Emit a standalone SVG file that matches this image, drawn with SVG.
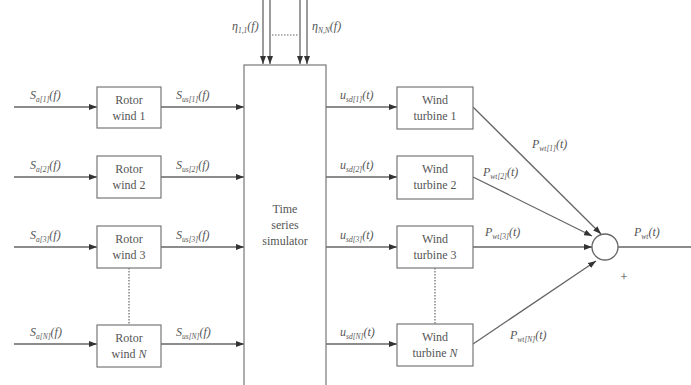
<svg xmlns="http://www.w3.org/2000/svg" width="691" height="385" viewBox="0 0 691 385" font-family="'Liberation Serif', 'DejaVu Serif', 'Times New Roman', serif">
<style>
.box{fill:#fff;stroke:#777;stroke-width:1.2}
.ln{stroke:#666;stroke-width:1.3;fill:none}
.dot{stroke:#666;stroke-width:1.2;stroke-dasharray:1.5 1.5;fill:none}
text{font-family:'Liberation Serif','DejaVu Serif','Times New Roman',serif}
.t{font-size:12px;fill:#555;text-anchor:middle}
.l{font-size:12px;fill:#555;font-style:italic}
.s{font-size:7.5px}
</style>
<defs>
<marker id="a" viewBox="0 0 8 6" refX="8" refY="3" markerWidth="8" markerHeight="6" markerUnits="userSpaceOnUse" orient="auto">
<path d="M0,0 L8,3 L0,6 z" fill="#333"/>
</marker>
</defs>
<rect width="691" height="385" fill="#fff"/>
<g id="connectors">
<line class="ln" x1="263" y1="0" x2="263" y2="64" marker-end="url(#a)"/>
<line class="ln" x1="270" y1="0" x2="270" y2="64" marker-end="url(#a)"/>
<line class="ln" x1="300" y1="0" x2="300" y2="64" marker-end="url(#a)"/>
<line class="ln" x1="307" y1="0" x2="307" y2="64" marker-end="url(#a)"/>
<line class="dot" x1="272" y1="35" x2="298" y2="35"/>
<line class="ln" x1="14" y1="107" x2="97" y2="107" marker-end="url(#a)"/>
<line class="ln" x1="14" y1="177" x2="97" y2="177" marker-end="url(#a)"/>
<line class="ln" x1="14" y1="247" x2="97" y2="247" marker-end="url(#a)"/>
<line class="ln" x1="14" y1="344" x2="97" y2="344" marker-end="url(#a)"/>
<line class="ln" x1="161" y1="107" x2="244" y2="107" marker-end="url(#a)"/>
<line class="ln" x1="161" y1="177" x2="244" y2="177" marker-end="url(#a)"/>
<line class="ln" x1="161" y1="247" x2="244" y2="247" marker-end="url(#a)"/>
<line class="ln" x1="161" y1="344" x2="244" y2="344" marker-end="url(#a)"/>
<line class="dot" x1="129" y1="268" x2="129" y2="325"/>
<line class="ln" x1="326" y1="107" x2="397" y2="107" marker-end="url(#a)"/>
<line class="ln" x1="326" y1="177" x2="397" y2="177" marker-end="url(#a)"/>
<line class="ln" x1="326" y1="247" x2="397" y2="247" marker-end="url(#a)"/>
<line class="ln" x1="326" y1="344" x2="397" y2="344" marker-end="url(#a)"/>
<line class="dot" x1="435" y1="268" x2="435" y2="324"/>
<line class="ln" x1="473" y1="107" x2="601" y2="234" marker-end="url(#a)"/>
<line class="ln" x1="473" y1="177" x2="592" y2="236" marker-end="url(#a)"/>
<line class="ln" x1="473" y1="247" x2="592" y2="247" marker-end="url(#a)"/>
<line class="ln" x1="473" y1="344" x2="596" y2="261" marker-end="url(#a)"/>
<line class="ln" x1="618" y1="247" x2="691" y2="247"/>
</g>
<g id="sim"><rect class="box" x="244" y="65" width="82" height="330"/>
<text class="t" x="285" y="213">Time</text><text class="t" x="285" y="229">series</text><text class="t" x="285" y="245">simulator</text></g>
<g id="rw1"><rect class="box" x="97" y="87" width="64" height="41"/><text class="t" x="129" y="104">Rotor</text><text class="t" x="129" y="120">wind 1</text></g>
<g id="rw2"><rect class="box" x="97" y="156" width="64" height="42"/><text class="t" x="129" y="173">Rotor</text><text class="t" x="129" y="189">wind 2</text></g>
<g id="rw3"><rect class="box" x="97" y="226" width="64" height="42"/><text class="t" x="129" y="243">Rotor</text><text class="t" x="129" y="259">wind 3</text></g>
<g id="rwN"><rect class="box" x="97" y="325" width="64" height="42"/><text class="t" x="129" y="342">Rotor</text><text class="t" x="129" y="358">wind <tspan font-style="italic">N</tspan></text></g>
<g id="wt1"><rect class="box" x="397" y="87" width="76" height="42"/><text class="t" x="435" y="104">Wind</text><text class="t" x="435" y="120">turbine 1</text></g>
<g id="wt2"><rect class="box" x="397" y="156" width="76" height="43"/><text class="t" x="435" y="173">Wind</text><text class="t" x="435" y="189">turbine 2</text></g>
<g id="wt3"><rect class="box" x="397" y="226" width="76" height="42"/><text class="t" x="435" y="243">Wind</text><text class="t" x="435" y="259">turbine 3</text></g>
<g id="wtN"><rect class="box" x="397" y="324" width="76" height="42"/><text class="t" x="435" y="341">Wind</text><text class="t" x="435" y="357">turbine <tspan font-style="italic">N</tspan></text></g>
<g id="sum"><circle cx="605" cy="247" r="13" fill="#fff" stroke="#666" stroke-width="1.3"/><text class="t" x="624" y="281" style="font-size:13px;fill:#444">+</text></g>
<g id="labels">
<text class="l" x="232" y="30">η<tspan class="s" dy="3">1,1</tspan><tspan dy="-3">(f)</tspan></text>
<text class="l" x="312" y="30">η<tspan class="s" dy="3">N,N</tspan><tspan dy="-3">(f)</tspan></text>
<text class="l" x="30" y="99">S<tspan class="s" dy="3">a[1]</tspan><tspan dy="-3">(f)</tspan></text>
<text class="l" x="30" y="169">S<tspan class="s" dy="3">a[2]</tspan><tspan dy="-3">(f)</tspan></text>
<text class="l" x="30" y="239">S<tspan class="s" dy="3">a[3]</tspan><tspan dy="-3">(f)</tspan></text>
<text class="l" x="30" y="336">S<tspan class="s" dy="3">a[N]</tspan><tspan dy="-3">(f)</tspan></text>
<text class="l" x="176" y="99">S<tspan class="s" dy="3">us[1]</tspan><tspan dy="-3">(f)</tspan></text>
<text class="l" x="176" y="169">S<tspan class="s" dy="3">us[2]</tspan><tspan dy="-3">(f)</tspan></text>
<text class="l" x="176" y="239">S<tspan class="s" dy="3">us[3]</tspan><tspan dy="-3">(f)</tspan></text>
<text class="l" x="176" y="336">S<tspan class="s" dy="3">us[N]</tspan><tspan dy="-3">(f)</tspan></text>
<text class="l" x="340" y="99">u<tspan class="s" dy="3">sd[1]</tspan><tspan dy="-3">(t)</tspan></text>
<text class="l" x="340" y="169">u<tspan class="s" dy="3">sd[2]</tspan><tspan dy="-3">(t)</tspan></text>
<text class="l" x="340" y="239">u<tspan class="s" dy="3">sd[3]</tspan><tspan dy="-3">(t)</tspan></text>
<text class="l" x="340" y="336">u<tspan class="s" dy="3">sd[N]</tspan><tspan dy="-3">(t)</tspan></text>
<text class="l" x="532" y="148">P<tspan class="s" dy="3">wt[1]</tspan><tspan dy="-3">(t)</tspan></text>
<text class="l" x="483" y="176">P<tspan class="s" dy="3">wt[2]</tspan><tspan dy="-3">(t)</tspan></text>
<text class="l" x="485" y="236">P<tspan class="s" dy="3">wt[3]</tspan><tspan dy="-3">(t)</tspan></text>
<text class="l" x="510" y="339">P<tspan class="s" dy="3">wt[N]</tspan><tspan dy="-3">(t)</tspan></text>
<text class="l" x="634" y="236">P<tspan class="s" dy="3">wt</tspan><tspan dy="-3">(t)</tspan></text>
</g>
</svg>
